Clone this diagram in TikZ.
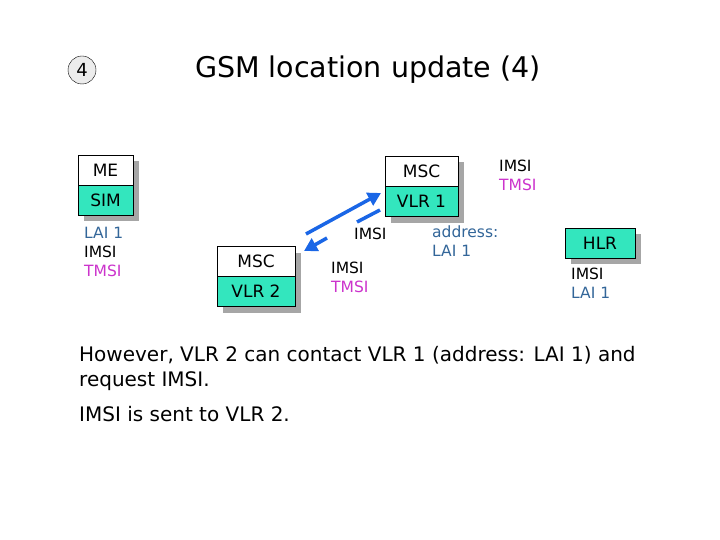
\documentclass[tikz,border=0pt]{standalone}
\usepackage{fontspec}
\setmainfont{DejaVu Sans}
\usetikzlibrary{arrows.meta}
\definecolor{teal1}{RGB}{51,230,190}
\definecolor{tblue}{RGB}{51,102,153}
\definecolor{tmag}{RGB}{204,51,204}
\definecolor{ablue}{RGB}{26,102,230}
\begin{document}
\begin{tikzpicture}[x=1pt,y=-1pt,
  cell/.style={draw=black,line width=0.8pt,minimum width=56pt,minimum height=30pt,inner sep=0pt,font=\fontsize{17}{17}\selectfont},
  shad/.style={fill=gray!70},
  lbl/.style={anchor=north west,align=left,inner sep=0pt,font=\fontsize{15.5}{19}\selectfont},
  arr/.style={draw=ablue,line width=3.5pt,-{Triangle[length=13pt,width=14pt]}}]
\useasboundingbox (0,0) rectangle (720,540);
\fill[white] (0,0) rectangle (720,540);
\node[circle,draw,fill=gray!15,minimum size=28pt,inner sep=0pt,font=\fontsize{18}{18}\selectfont] (num) at (82,70) {4};
\node[font=\fontsize{28.5}{28.5}\selectfont] (title) at (368,70) {GSM location update (4)};
% ME/SIM
\fill[shad] (84,161) rectangle (139,221);
\node[cell,fill=white,minimum width=55pt] (me) at (105.5,170) {ME};
\node[cell,fill=teal1,minimum width=55pt] (sim) at (105.5,200) {SIM};
\node[lbl] (l1) at (84,227) {\textcolor{tblue}{LAI 1}\\IMSI\\\textcolor{tmag}{TMSI}};
% MSC/VLR1
\fill[shad] (391,162) rectangle (464,223);
\node[cell,fill=white,minimum width=73pt] (msc1) at (421.5,171) {MSC};
\node[cell,fill=teal1,minimum width=73pt] (vlr1) at (421.5,201) {VLR 1};
\node[lbl] (l2) at (499,160) {IMSI\\\textcolor{tmag}{TMSI}};
\node[lbl,text=tblue] (l3) at (432,226) {address:\\LAI 1};
% MSC/VLR2
\fill[shad] (223,253) rectangle (301,313);
\node[cell,fill=white,minimum width=78pt] (msc2) at (256,261) {MSC};
\node[cell,fill=teal1,minimum width=78pt] (vlr2) at (256,291) {VLR 2};
\node[lbl] (l4) at (331,262) {IMSI\\\textcolor{tmag}{TMSI}};
% HLR
\fill[shad] (571,234) rectangle (641,264);
\node[cell,fill=teal1,minimum width=70pt] (hlr) at (600,243) {HLR};
\node[lbl] (l5) at (571,268) {IMSI\\\textcolor{tblue}{LAI 1}};
% arrows
\coordinate (a1) at (306,234);
\coordinate (a2) at (381,193);
\draw[arr] (a1) -- (a2);
\coordinate (b1) at (380,210);
\coordinate (b2) at (357,222);
\coordinate (b3) at (327,238);
\coordinate (b4) at (304,251);
\draw[draw=ablue,line width=3.5pt] (b1) -- (b2);
\draw[arr] (b3) -- (b4);
\node[lbl] (imsi) at (354,228) {IMSI};
% bottom text
\node[anchor=north west,align=left,inner sep=0pt,font=\fontsize{20}{25}\selectfont] (t1) at (79,346) {However, VLR 2 can contact VLR 1 (address: LAI 1) and\\request IMSI.};
\node[anchor=north west,inner sep=0pt,font=\fontsize{20}{25}\selectfont] (t2) at (79,406) {IMSI is sent to VLR 2.};
\end{tikzpicture}
\end{document}
